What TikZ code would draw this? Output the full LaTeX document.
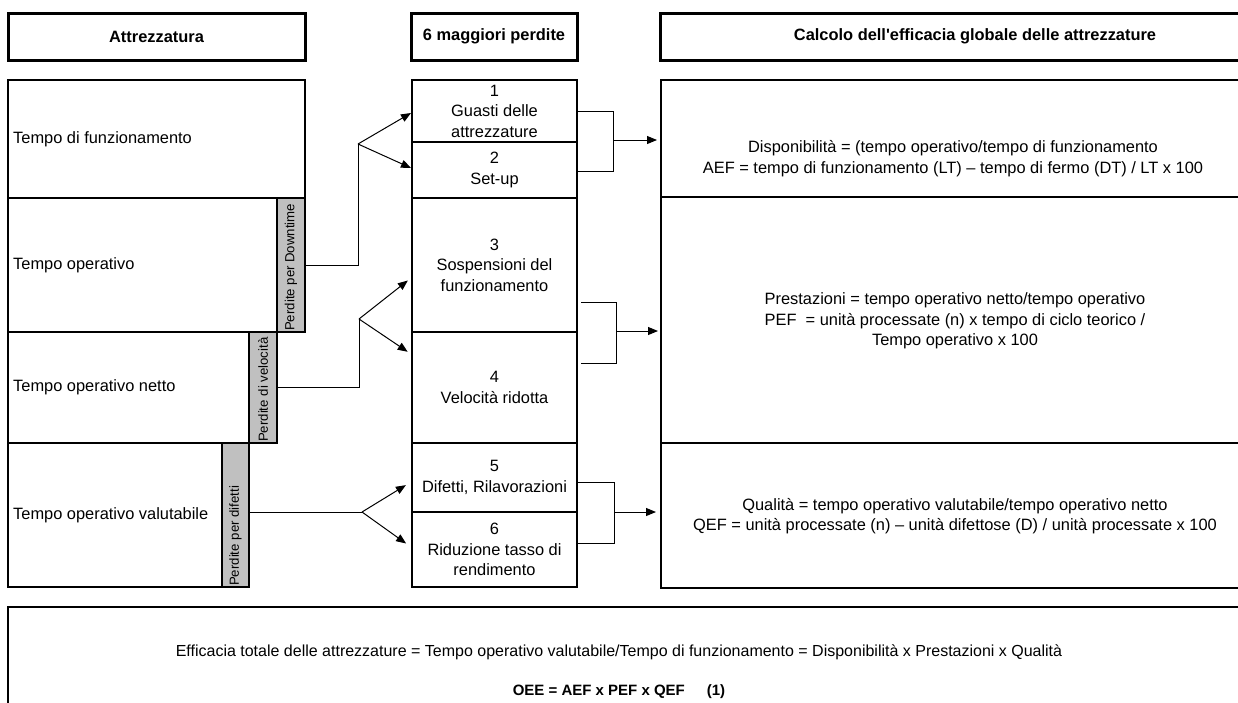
\documentclass[tikz,border=0pt]{standalone}
\usepackage{fontspec}
\setmainfont{Liberation Sans}
\usetikzlibrary{arrows.meta,calc}
\definecolor{barfill}{HTML}{C0C0C0}

\begin{document}
\begin{tikzpicture}[x=1pt,y=-1pt,
  txt/.style={font=\fontsize{16.4}{20.5}\selectfont, inner sep=0pt, align=center},
  lefttxt/.style={font=\fontsize{16.4}{20.5}\selectfont, inner sep=0pt, anchor=west},
  head/.style={draw, line width=3pt, inner sep=0pt, font=\bfseries\fontsize{16.4}{20}\selectfont},
  cell/.style={draw, line width=2pt, inner sep=0pt, align=center, font=\fontsize{16.4}{20.5}\selectfont},
  lossbar/.style={draw, line width=2pt, fill=barfill, inner sep=0pt},
  vlabel/.style={rotate=90, anchor=west, inner sep=0pt, font=\fontsize{13.2}{15}\selectfont},
  link/.style={line width=1pt},
  arr/.style={line width=1pt, -{Triangle[length=10pt,width=8pt]}},
]
\useasboundingbox (0,0) rectangle (1238,702);
\fill[white] (0,0) rectangle (1238,702);
\begin{scope}
\clip (0,0) rectangle (1238,702);

% column headers
\node[head, minimum width=297pt, minimum height=47pt] (hA) at (156.5,36.5) {Attrezzatura};
\node[head, minimum width=166pt, minimum height=47pt] (hB) at (494,36.5) {6 maggiori perdite};
\node[head, minimum width=630pt, minimum height=47pt] (hC) at (975,36.5) {Calcolo dell\textquotesingle efficacia globale delle attrezzature};

% time breakdown (left column)
\node[cell, minimum width=297pt, minimum height=118pt] (lt) at (156.5,139) {};
\node[cell, minimum width=269pt, minimum height=134pt] (ot) at (142.5,265) {};
\node[lossbar, minimum width=28pt, minimum height=134pt] (gbar1) at (291,265) {};
\node[cell, minimum width=241pt, minimum height=111pt] (nt) at (128.5,387.5) {};
\node[lossbar, minimum width=28pt, minimum height=111pt] (gbar2) at (263,387.5) {};
\node[cell, minimum width=214pt, minimum height=144pt] (vt) at (115,515) {};
\node[lossbar, minimum width=27pt, minimum height=144pt] (gbar3) at (235.5,515) {};

\node[lefttxt] (ltt) at (13,139) {Tempo di funzionamento};
\node[lefttxt] (ott) at (13,265) {Tempo operativo};
\node[lefttxt] (ntt) at (13,387.5) {Tempo operativo netto};
\node[lefttxt] (vtt) at (13,515) {Tempo operativo valutabile};

\node[vlabel] (gl1) at ([yshift=2pt]gbar1.south) {Perdite per Downtime};
\node[vlabel] (gl2) at ([yshift=2pt]gbar2.south) {Perdite di velocità};
\node[vlabel] (gl3) at ([yshift=2pt]gbar3.south) {Perdite per difetti};

% six big losses (middle column)
\node[cell, minimum width=165pt, minimum height=62pt] (b1) at (494.5,111) {1\\Guasti delle\\attrezzature};
\node[cell, minimum width=165pt, minimum height=56pt] (b2) at (494.5,170) {2\\Set-up};
\node[cell, minimum width=165pt, minimum height=134pt] (b3) at (494.5,265) {3\\Sospensioni del\\funzionamento};
\node[cell, minimum width=165pt, minimum height=111pt] (b4) at (494.5,387.5) {4\\Velocità ridotta};
\node[cell, minimum width=165pt, minimum height=69pt] (b5) at (494.5,477.5) {5\\Difetti, Rilavorazioni};
\node[cell, minimum width=165pt, minimum height=75pt] (b6) at (494.5,549.5) {6\\Riduzione tasso di\\rendimento};

% efficiency formulas (right column)
\node[cell, minimum width=589pt, minimum height=117pt] (r1) at (955.5,138.5) {};
\node[cell, minimum width=589pt, minimum height=246pt] (r2) at (955.5,320) {};
\node[cell, minimum width=589pt, minimum height=145pt] (r3) at (955.5,515.5) {};

\node[txt] (r1t) at (953,158.5) {Disponibilità = (tempo operativo/tempo di funzionamento\\AEF = tempo di funzionamento (LT) – tempo di fermo (DT) / LT x 100};
\node[txt] (r2t) at (955,321) {Prestazioni = tempo operativo netto/tempo operativo\\PEF\ \ = unità processate (n) x tempo di ciclo teorico /\\Tempo operativo x 100};
\node[txt] (r3t) at (955,516) {Qualità = tempo operativo valutabile/tempo operativo netto\\QEF = unità processate (n) – unità difettose (D) / unità processate x 100};

% overall efficiency
\node[cell, minimum width=1242pt, minimum height=123pt] (oe) at (629,668.5) {};
\node[inner sep=0pt, font=\fontsize{16}{19}\selectfont] (oet) at (619,652) {Efficacia totale delle attrezzature = Tempo operativo valutabile/Tempo di funzionamento = Disponibilità x Prestazioni x Qualità};
\node[inner sep=0pt, font=\bfseries\fontsize{15}{18}\selectfont] (oeq) at (619,692) {OEE = AEF x PEF x QEF\hspace{22pt}(1)};

% losses mapped onto the six big losses
\coordinate (fork1) at (358,144);
\draw[link] (gbar1.east) -- (fork1 |- gbar1.east) -- (fork1);
\draw[arr] (fork1) -- (b1.west |- 0,113);
\draw[arr] (fork1) -- (b2.west |- 0,168);

\coordinate (fork2) at (359,319);
\draw[link] (gbar2.east) -- (fork2 |- gbar2.east) -- (fork2);
\draw[arr, shorten >=4pt] (fork2) -- (b3.west |- 0,278);
\draw[arr, shorten >=4pt] (fork2) -- (b4.west |- 0,354);

\coordinate (fork3) at (362,512);
\draw[link] (gbar3.east |- fork3) -- (fork3);
\draw[arr, shorten >=6pt] (fork3) -- (b5.west |- 0,482);
\draw[arr, shorten >=6pt] (fork3) -- (b6.west |- 0,547);

% six big losses grouped into the three factors
\coordinate (s1) at (613,140);
\draw[link] (b1.east |- 0,111) -| (s1 |- 0,171) -- (b2.east |- 0,171);
\draw[arr, shorten >=3pt] (s1) -- (r1.west |- s1);

\coordinate (s2) at (616,331);
\draw[link, shorten <=3pt, shorten >=3pt] (b3.east |- 0,302) -| (s2 |- 0,363) -- (b4.east |- 0,363);
\draw[arr, shorten >=2pt] (s2) -- (r2.west |- s2);

\coordinate (s3) at (614,512);
\draw[link] (b5.east |- 0,482) -| (s3 |- 0,543) -- (b6.east |- 0,543);
\draw[arr, shorten >=4pt] (s3) -- (r3.west |- s3);
\end{scope}
\end{tikzpicture}
\end{document}
